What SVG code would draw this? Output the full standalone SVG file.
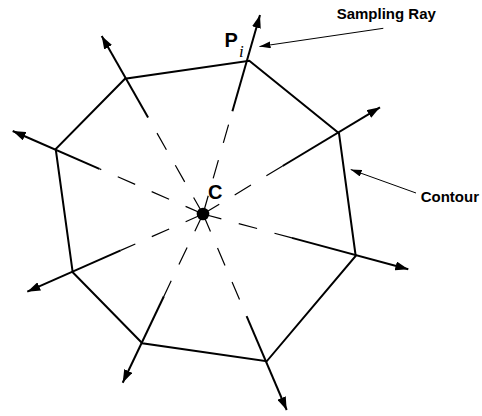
<svg xmlns="http://www.w3.org/2000/svg" width="482" height="416" viewBox="0 0 482 416">
<style>
.bg{fill:#fff}
.contour{fill:none;stroke:#000;stroke-width:2;stroke-linejoin:miter}
.dash{fill:none;stroke:#000;stroke-width:1.2;stroke-dasharray:19 18}
.ray{fill:none;stroke:#000;stroke-width:2;marker-end:url(#ah)}
.note{fill:none;stroke:#000;stroke-width:1;marker-end:url(#ahs)}
.lbl{font-family:"Liberation Sans",Arial,sans-serif;font-weight:bold;fill:#000}
.sub{font-family:"Liberation Serif","Times New Roman",serif;font-style:italic;fill:#000}
</style>
<defs>
<marker id="ah" viewBox="0 0 13 9" refX="13" refY="4.5" markerWidth="13" markerHeight="9" markerUnits="userSpaceOnUse" orient="auto">
<path d="M0,0 L13,4.5 L0,9 z" fill="#000"/>
</marker>
<marker id="ahs" viewBox="0 0 11 7" refX="11" refY="3.5" markerWidth="11" markerHeight="7" markerUnits="userSpaceOnUse" orient="auto">
<path d="M0,0 L11,3.5 L0,7 z" fill="#000"/>
</marker>
</defs>
<rect class="bg" x="0" y="0" width="482" height="416"/>
<g id="contour">
<polygon class="contour" points="249.3,60.7 339,133.3 355.7,256 266.7,361.3 142.3,343.3 72.7,272.3 55.7,149 125,78.7"/>
</g>
<g id="connectors">
<line class="dash" x1="203" y1="214" x2="232.4" y2="111.2"/>
<line class="ray" x1="232.4" y1="111.2" x2="260" y2="15"/>
<line class="dash" x1="203" y1="214" x2="148.1" y2="117.5"/>
<line class="ray" x1="148.1" y1="117.5" x2="101.7" y2="36"/>
<line class="dash" x1="203" y1="214" x2="99.4" y2="168.8"/>
<line class="ray" x1="99.4" y1="168.8" x2="12.7" y2="131"/>
<line class="dash" x1="203" y1="214" x2="282.6" y2="166"/>
<line class="ray" x1="282.6" y1="166" x2="380" y2="107.3"/>
<line class="dash" x1="203" y1="214" x2="291.9" y2="237.9"/>
<line class="ray" x1="291.9" y1="237.9" x2="408.3" y2="269.3"/>
<line class="dash" x1="203" y1="214" x2="246.6" y2="316.1"/>
<line class="ray" x1="246.6" y1="316.1" x2="286.7" y2="410"/>
<line class="dash" x1="203" y1="214" x2="163.9" y2="296.2"/>
<line class="ray" x1="163.9" y1="296.2" x2="122.7" y2="382.7"/>
<line class="dash" x1="203" y1="214" x2="120.7" y2="250.4"/>
<line class="ray" x1="120.7" y1="250.4" x2="27.3" y2="291.7"/>
<line class="note" x1="383.3" y1="28.3" x2="259.5" y2="46.5"/>
<line class="note" x1="416" y1="193" x2="350.7" y2="169.5"/>
</g>
<g id="center">
<circle cx="203" cy="214" r="6.3" fill="#000"/>
<text class="lbl" x="208" y="198.5" font-size="20">C</text>
</g>
<g id="point-pi">
<text class="lbl" x="224.5" y="47.3" font-size="20">P</text>
<text class="sub" x="239" y="56.5" font-size="17">i</text>
</g>
<g id="label-sampling-ray">
<text class="lbl" x="336.7" y="19" font-size="15">Sampling Ray</text>
</g>
<g id="label-contour">
<text class="lbl" x="420.7" y="201.5" font-size="15">Contour</text>
</g>
</svg>
